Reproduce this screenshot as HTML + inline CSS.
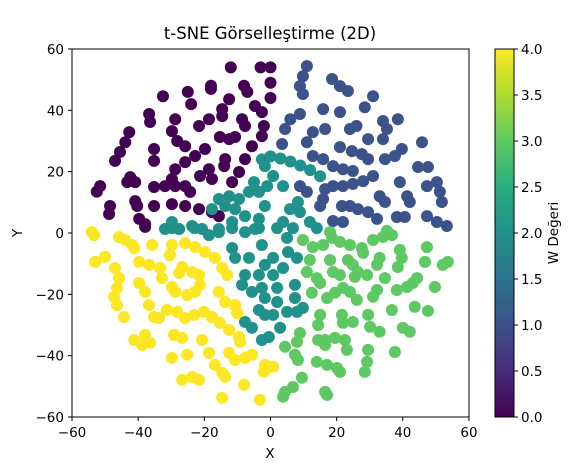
<!DOCTYPE html>
<html><head><meta charset="utf-8"><style>
html,body{margin:0;padding:0;background:#fff;width:587px;height:467px;overflow:hidden}
svg text{font-family:"DejaVu Sans","Liberation Sans",sans-serif;fill:#000}
</style></head><body>
<svg id="chart" width="587" height="467" xmlns="http://www.w3.org/2000/svg">
<defs><linearGradient id="vir" x1="0" y1="1" x2="0" y2="0">
<stop offset="0" stop-color="#440154"/><stop offset="0.125" stop-color="#472c7a"/><stop offset="0.25" stop-color="#3b528b"/><stop offset="0.375" stop-color="#2c728e"/><stop offset="0.5" stop-color="#21918c"/><stop offset="0.625" stop-color="#28ae80"/><stop offset="0.75" stop-color="#5ec962"/><stop offset="0.875" stop-color="#addc30"/><stop offset="1" stop-color="#fde725"/>
</linearGradient></defs>
<text x="270" y="39" font-size="16.5" text-anchor="middle">t-SNE Görselleştirme (2D)</text>
<g id="points"></g>
<rect x="72" y="49" width="397" height="368" fill="none" stroke="#000" stroke-width="1"/>
<g id="axes"></g>
<text x="270" y="458" font-size="13.5" text-anchor="middle">X</text>
<text x="22" y="233" font-size="13.5" text-anchor="middle" transform="rotate(-90 22 233)">Y</text>
<rect x="495" y="49" width="19" height="368" fill="url(#vir)" stroke="#000" stroke-width="1"/>
<g id="cbar"></g>
<text x="558" y="233" font-size="13.5" text-anchor="middle" transform="rotate(-90 558 233)">W Değeri</text>
</svg>
<script>
const wLevels=[0,1,2,3,4];
const series0=[[-12,54],[-3,54],[0,54],[-32.5,44.6],[-25,46],[-24,42],[-18,48],[-18,47],[-8,48],[-7,46],[-12.5,43.6],[-14.6,40.4],[-4.7,41.4],[-2.6,39.4],[-2,34.9],[-2.6,31.6],[-5.6,28.3],[-7.7,24.1],[-9.5,19.9],[-11.6,16.6],[0,49],[0,44],[-36.7,38.8],[-36.4,36.2],[-28.8,37.1],[-29.8,33.2],[-28.2,30],[-25.8,28.3],[-21.6,34.9],[-18.6,37.1],[-14.6,38.1],[-8.6,37.1],[-7.7,34.9],[-15.3,31.3],[-12.5,30.6],[-10.7,31.3],[-42.7,32.9],[-43.9,29.6],[-45.5,26.4],[-47,23.5],[-35.2,27.4],[-35.2,23.5],[-19.8,27.4],[-22.8,25.1],[-25.8,23.1],[-28.8,20.8],[-29.8,17.6],[-13.7,24.1],[-14,21.8],[-18.6,20.8],[-17.7,17.6],[-21.3,18.6],[-51.5,15.3],[-52.5,13.5],[-42.4,18.2],[-40.9,16.6],[-43.3,16.6],[-35.2,15],[-31.9,15.3],[-28.8,15.3],[-25.8,15.3],[-24.3,13.4],[-40.9,10.4],[-40.3,8.8],[-48.5,8.8],[-48.8,6.2],[-35.2,8.8],[-29.8,9.4],[-25.8,8.8],[-21.6,7.8],[-17.7,6.8],[-15.6,5.5],[-39.7,4.6],[-37.9,2.9],[-37.9,2]];
const series1=[[11,54.4],[9.8,51.1],[8.9,47.9],[9.8,45.3],[18.6,50.2],[21,47.9],[23.4,46.3],[31,44.6],[28.5,41],[15.9,40.4],[21,39.4],[8.9,38.8],[6,37.1],[4.4,33.9],[3.5,29],[12.8,32.9],[16.5,33.9],[11,29.6],[12.8,25.1],[15.9,24.1],[18.9,21.8],[21.9,20.8],[24.9,20.2],[24,33.9],[26,34.9],[21,28],[24.6,26.7],[27.6,25.7],[29.5,24.1],[29.5,30.6],[34,36.5],[35.2,33.9],[38.5,37.1],[34,30.6],[34.6,24.1],[37.6,25.1],[39.7,27.4],[45.8,29.6],[44.6,21.5],[47.6,21.5],[31,18.6],[28,16.9],[24.9,16],[21.9,15.3],[18.9,15.3],[16.5,14.3],[15.9,11.1],[15,8.8],[8.9,15.3],[11,13.4],[39.1,16.6],[41.3,12],[42.1,10.1],[47.3,15.3],[50.3,16.6],[51.2,13.4],[51.8,10.1],[33,12],[34.6,10.1],[21.6,8.8],[24,8.8],[26.4,7.8],[29.5,6.8],[32.2,4.6],[18.9,3.9],[21.9,3.6],[38.2,5.2],[40.6,5.2],[47.3,5.5],[50.3,3.6],[53.3,2.3]];
const series2=[[0,25],[3,24.3],[6,23.3],[9,22],[12,20.5],[15,18.5],[-2.6,24],[-1.7,21.8],[0.8,18.6],[3.8,15.3],[8.3,10.1],[5.9,7.8],[8.9,6.8],[3.8,3.6],[11.9,3.6],[-5,16.6],[-6.5,13.4],[-9.5,11.1],[-12.5,12],[-15.6,11.1],[-17.7,7.8],[-13.7,8.8],[-10.7,7.8],[-3.5,13.4],[-1,15.3],[-1.7,8.8],[-3.5,4.6],[-7.7,5.5],[-11.6,3.6],[-15.6,1.3],[-20.7,1.3],[-23.7,2.3],[-29.8,3.6],[-31.9,1.3],[-27.6,1.3],[-4.7,1.3],[-29.8,1.6],[-23,1.6],[-18.6,-0.7],[-15.6,0.3],[-11.6,1.6],[-7.7,0.3],[-3.5,1.6],[-11.6,-4.9],[-10.7,-8.1],[-6.5,-8.1],[-2.6,-3.9],[-1.7,-10.4],[-3.5,-13.7],[-7.7,-13.7],[-8.6,-16.9],[-5.6,-19.2],[-2.6,-17.9],[-1.7,-21.2],[-3.5,-25.1],[-1.7,-26.7],[-7.7,-29],[-5.6,-30.9],[-2.6,-34.9],[-0.5,-33.9],[2,1.6],[6.8,1.6],[14,1.6],[5,-1.6],[5.3,-6.2],[8,-8.1],[0.8,-8.1],[3.8,-11.4],[0.8,-13.7],[2,-17.9],[2,-22.5],[0.8,-26.7],[2.9,-30.9],[7.4,-16.9],[7.4,-21.2],[8,-25.7],[9.8,-24.4],[5,-25.7]];
const series3=[[9.8,-2.3],[12.8,-4.6],[15.9,-3.9],[18.6,-1.6],[21,-2.9],[24,-3.9],[31,-2.3],[34,-1.3],[36.7,-0.7],[35.2,0.7],[18,0.3],[27.6,-4.9],[28,-6.5],[39.1,-5.5],[39.7,-8.1],[38.5,-11.1],[47.3,-4.6],[46.7,-9.4],[53.6,-9.4],[52.1,-10.4],[11.9,-8.8],[11,-12.7],[14,-14.7],[15,-16.3],[18,-8.8],[18.9,-12.7],[21,-13.7],[23.4,-8.8],[24.9,-10.4],[26.4,-12.7],[25.5,-14.3],[29.2,-13.7],[33,-8.1],[32.2,-10.4],[34.6,-14.7],[32.2,-18.6],[31,-20.8],[38.2,-18.6],[41.3,-17.6],[43,-16.3],[44.3,-14.7],[49.7,-17.6],[12.5,-19.5],[17.1,-21.2],[19.5,-19.5],[21.9,-17.9],[24,-19.2],[26.1,-21.8],[15,-26.7],[14.4,-30],[21.6,-26.7],[21.9,-29.3],[24.9,-29],[29.5,-26.7],[30.1,-30.6],[33,-32.2],[36.7,-25.1],[43.6,-24.1],[47.6,-25.4],[40,-30.9],[42.1,-32.2],[8.9,-32.6],[8,-35.5],[14.4,-34.9],[16.5,-34.9],[16.5,-36.5],[19.5,-34.2],[22.5,-34.9],[23.1,-38.1],[4.4,-37.1],[7.4,-39.7],[8.3,-41.4],[14,-42],[17.1,-43],[20.1,-44],[21,-45.3],[29.5,-38.1],[29.2,-42],[28.5,-45.3],[37.6,-38.8],[9.5,-47.2],[6.8,-50.2],[4.4,-51.8],[3.8,-53.4],[16.5,-51.8],[17.1,-52.8]];
const series4=[[-54,0.3],[-53.3,-0.7],[-45.8,-1.3],[-43.9,-2.3],[-41.8,-3.9],[-41.2,-4.9],[-35.8,-3.9],[-29.8,-3.9],[-30.4,-7.2],[-25.8,-3.3],[-22.8,-4.6],[-19.8,-6.2],[-16.8,-8.1],[-14.6,-11.4],[-13.1,-13.7],[-53,-9.4],[-50,-7.8],[-47,-11.4],[-45.8,-14.7],[-46.4,-17.9],[-47.3,-20.8],[-46.4,-23.5],[-44.3,-27.4],[-39.7,-9.4],[-36.7,-10.4],[-33.4,-11.4],[-32.8,-14.7],[-26.7,-11.1],[-27.6,-13],[-23.7,-12.7],[-21.6,-13.7],[-21.3,-16.9],[-22.8,-19.2],[-25.2,-20.2],[-28.8,-19.2],[-29.8,-17.6],[-39.7,-16.3],[-37.9,-19.2],[-36.7,-23.5],[-35.2,-27.4],[-33.7,-27.7],[-31.3,-25.1],[-28.2,-25.7],[-25.8,-27.7],[-23,-26.7],[-20.1,-25.7],[-17.7,-27.4],[-15.3,-29.3],[-12.5,-31.6],[-9.5,-33.9],[-9.2,-35.5],[-15.6,-19.2],[-13.7,-22.5],[-10.7,-23.5],[-10.1,-26.1],[-41.2,-34.9],[-37.9,-33.2],[-36.4,-35.8],[-38.8,-36.5],[-29.2,-33.2],[-26.7,-34.2],[-20.7,-34.9],[-29.8,-40.7],[-25.2,-39.7],[-18.6,-39.1],[-12.5,-39.1],[-10.7,-41.4],[-7.7,-40.7],[-5.6,-39.7],[-16.8,-43],[-14.6,-45.6],[-13.7,-46.9],[-26.7,-47.9],[-23.7,-46.9],[-21.6,-47.9],[-8,-49.5],[-14.6,-53.7],[-3.2,-54.4],[-2,-45.3],[-1.7,-43],[0.8,-43.6]];
const xTicks=[-60,-40,-20,0,20,40,60];
const yTicks=[-60,-40,-20,0,20,40,60];
const cTicks=[0,0.5,1,1.5,2,2.5,3,3.5,4];
const allSeries=[series0,series1,series2,series3,series4];
const NS='http://www.w3.org/2000/svg';
const sx=v=>270.5+v*3.308;
const sy=v=>233+v*-3.067;
const sc=v=>417-v/4*368;
const colors=['#440154','#3b528b','#21918c','#5ec962','#fde725'];
const pts=document.getElementById('points');
allSeries.forEach((s,i)=>{
  s.forEach(p=>{
    const c=document.createElementNS(NS,'circle');
    c.setAttribute('cx',sx(p[0]));c.setAttribute('cy',sy(p[1]));c.setAttribute('r',6);
    c.setAttribute('fill',colors[wLevels[i]]);
    
    
    pts.appendChild(c);
  });
});
const ax=document.getElementById('axes');
function add(parent,tag,attrs,text){const e=document.createElementNS(NS,tag);for(const k in attrs)e.setAttribute(k,attrs[k]);if(text!==undefined)e.textContent=text;parent.appendChild(e);return e;}
xTicks.forEach(t=>{
  add(ax,'line',{x1:sx(t),x2:sx(t),y1:417,y2:421,stroke:'#000'});
  const tx=add(ax,'text',{x:sx(t),y:437,'font-size':13.5,'text-anchor':'middle'},String(t).replace('-','−'));
  
  
});
yTicks.forEach(t=>{
  add(ax,'line',{x1:68,x2:72,y1:sy(t),y2:sy(t),stroke:'#000'});
  const tx=add(ax,'text',{x:64,y:sy(t)+5,'font-size':13.5,'text-anchor':'end'},String(t).replace('-','−'));
  
  
});
const cb=document.getElementById('cbar');
cTicks.forEach(t=>{
  add(cb,'line',{x1:514,x2:518,y1:sc(t),y2:sc(t),stroke:'#000'});
  const tx=add(cb,'text',{x:521,y:sc(t)+5,'font-size':13.5},t.toFixed(1));
  
  
});
</script>
</body></html>
